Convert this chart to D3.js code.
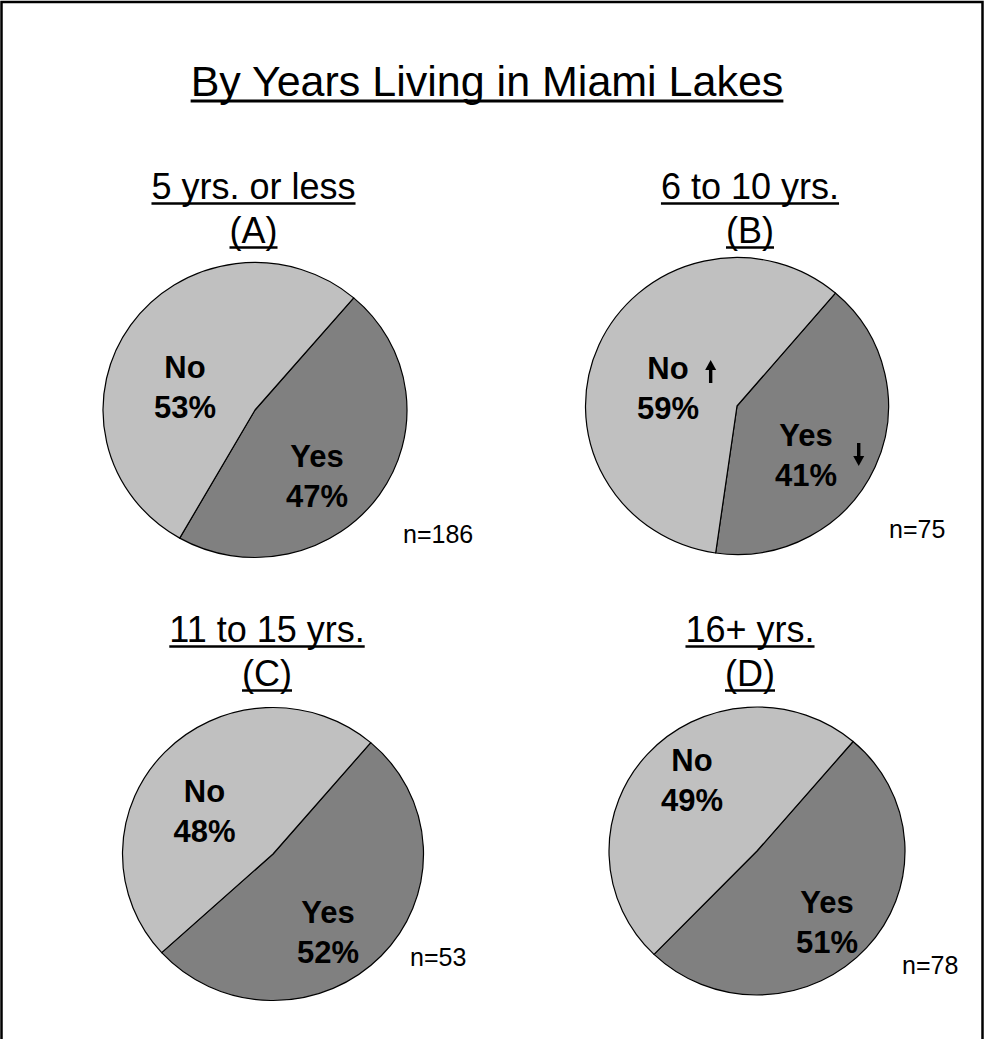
<!DOCTYPE html>
<html>
<head>
<meta charset="utf-8">
<script src="https://cdn.jsdelivr.net/npm/d3@7"></script>
<style>
  html, body { margin: 0; padding: 0; background: #fff; }
  svg { display: block; }
</style>
</head>
<body>
<script>
// ---------------- data ----------------
const chartTitle = "By Years Living in Miami Lakes";
const panelNames = ["5 yrs. or less", "6 to 10 yrs.", "11 to 15 yrs.", "16+ yrs."];
const panelLetters = ["(A)", "(B)", "(C)", "(D)"];
const categories = ["Yes", "No"];
const yesValues = [47, 41, 52, 51];
const noValues = [53, 59, 48, 49];
const sampleSizes = [186, 75, 53, 78];
const noSignificance = ["", "up", "", ""];
const yesSignificance = ["", "down", "", ""];

// ---------------- layout (positions only) ----------------
const W = 987, H = 1039;
const layout = [
  { cx: 255, cy: 410, r: 152, ry: 147.5, tx: 253.5, tb: 199, nx: 403, nb: 543,
    noL: [185, 378], yesL: [317, 467] },
  { cx: 737, cy: 406, r: 151.5, ry: 148.5, tx: 750, tb: 199, nx: 889, nb: 538,
    noL: [668, 379], yesL: [806, 446] },
  { cx: 273, cy: 854, r: 150.5, ry: 146.5, tx: 267, tb: 642, nx: 410, nb: 966,
    noL: [204.5, 801.5], yesL: [328, 923] },
  { cx: 757, cy: 851, r: 148, ry: 144, tx: 750, tb: 642, nx: 902, nb: 974,
    noL: [692, 770.5], yesL: [827, 913] }
];
const colors = d3.scaleOrdinal().domain(categories).range(["#808080", "#C0C0C0"]);
const FONT = "'Liberation Sans', Arial, Helvetica, sans-serif";
const startDeg = 40.5;

const svg = d3.select("body").append("svg")
  .attr("width", W).attr("height", H)
  .style("font-family", FONT);

// frame
svg.append("rect")
  .attr("x", 1.5).attr("y", 2).attr("width", 981).attr("height", H + 20)
  .attr("fill", "none").attr("stroke", "#000").attr("stroke-width", 2.5);

function underlined(g, x, y, text, size, weight, lineW, gap) {
  const t = g.append("text")
    .attr("x", x).attr("y", y)
    .attr("text-anchor", "middle")
    .attr("font-size", size)
    .attr("font-weight", weight)
    .attr("fill", "#000")
    .text(text);
  const w = t.node().getComputedTextLength();
  g.append("line")
    .attr("x1", x - w / 2).attr("x2", x + w / 2)
    .attr("y1", y + gap).attr("y2", y + gap)
    .attr("stroke", "#000").attr("stroke-width", lineW);
  return t;
}

// title
underlined(svg, 487, 96, chartTitle, 43, "normal", 3, 5);

const pie = d3.pie().sort(null).value(d => d.value)
  .startAngle(startDeg * Math.PI / 180)
  .endAngle(startDeg * Math.PI / 180 + 2 * Math.PI);

function arrow(g, x, yTop, yBot, dir) {
  const headH = 10, headW = 5.5;
  if (dir === "up") {
    g.append("line").attr("x1", x).attr("x2", x).attr("y1", yTop + headH - 1).attr("y2", yBot)
      .attr("stroke", "#000").attr("stroke-width", 3.4);
    g.append("path").attr("d", `M${x},${yTop} L${x - headW},${yTop + headH} L${x + headW},${yTop + headH} Z`)
      .attr("fill", "#000");
  } else {
    g.append("line").attr("x1", x).attr("x2", x).attr("y1", yTop).attr("y2", yBot - headH + 1)
      .attr("stroke", "#000").attr("stroke-width", 3.4);
    g.append("path").attr("d", `M${x},${yBot} L${x - headW},${yBot - headH} L${x + headW},${yBot - headH} Z`)
      .attr("fill", "#000");
  }
}

panelNames.forEach((name, i) => {
  const L = layout[i];
  const g = svg.append("g");

  // panel titles
  underlined(g, L.tx, L.tb, name, 36, "normal", 2.5, 4.5);
  underlined(g, L.tx, L.tb + 44, panelLetters[i], 36, "normal", 2.5, 4.5);

  const data = [
    { cat: "Yes", value: yesValues[i] },
    { cat: "No", value: noValues[i] }
  ];
  const arc = d3.arc().innerRadius(0).outerRadius(L.r);
  const pg = g.append("g")
    .attr("transform", `translate(${L.cx},${L.cy}) scale(1,${L.ry / L.r})`);
  pg.selectAll("path")
    .data(pie(data))
    .join("path")
    .attr("d", arc)
    .attr("fill", d => colors(d.data.cat))
    .attr("stroke", "#000")
    .attr("stroke-width", 1.2)
    .attr("vector-effect", "non-scaling-stroke")
    .attr("stroke-linejoin", "round");

  // data labels
  const labels = [
    { cat: "No", v: noValues[i], pos: L.noL, sig: noSignificance[i] },
    { cat: "Yes", v: yesValues[i], pos: L.yesL, sig: yesSignificance[i] }
  ];
  labels.forEach(lb => {
    const t1 = g.append("text")
      .attr("x", lb.pos[0]).attr("y", lb.pos[1])
      .attr("text-anchor", "middle")
      .attr("font-size", 31).attr("font-weight", "bold").attr("fill", "#000")
      .text(lb.cat);
    g.append("text")
      .attr("x", lb.pos[0]).attr("y", lb.pos[1] + 40)
      .attr("text-anchor", "middle")
      .attr("font-size", 31).attr("font-weight", "bold").attr("fill", "#000")
      .text(lb.v + "%");
    if (lb.sig) {
      const w = t1.node().getComputedTextLength();
      const xr = lb.pos[0] + w / 2;
      if (lb.sig === "up") arrow(g, xr + 22, lb.pos[1] - 19, lb.pos[1] + 4, "up");
      else arrow(g, xr + 26, lb.pos[1] - 3, lb.pos[1] + 20, "down");
    }
  });

  // sample size
  g.append("text")
    .attr("x", L.nx).attr("y", L.nb)
    .attr("font-size", 25).attr("fill", "#000")
    .text("n=" + sampleSizes[i]);
});
</script>
</body>
</html>
